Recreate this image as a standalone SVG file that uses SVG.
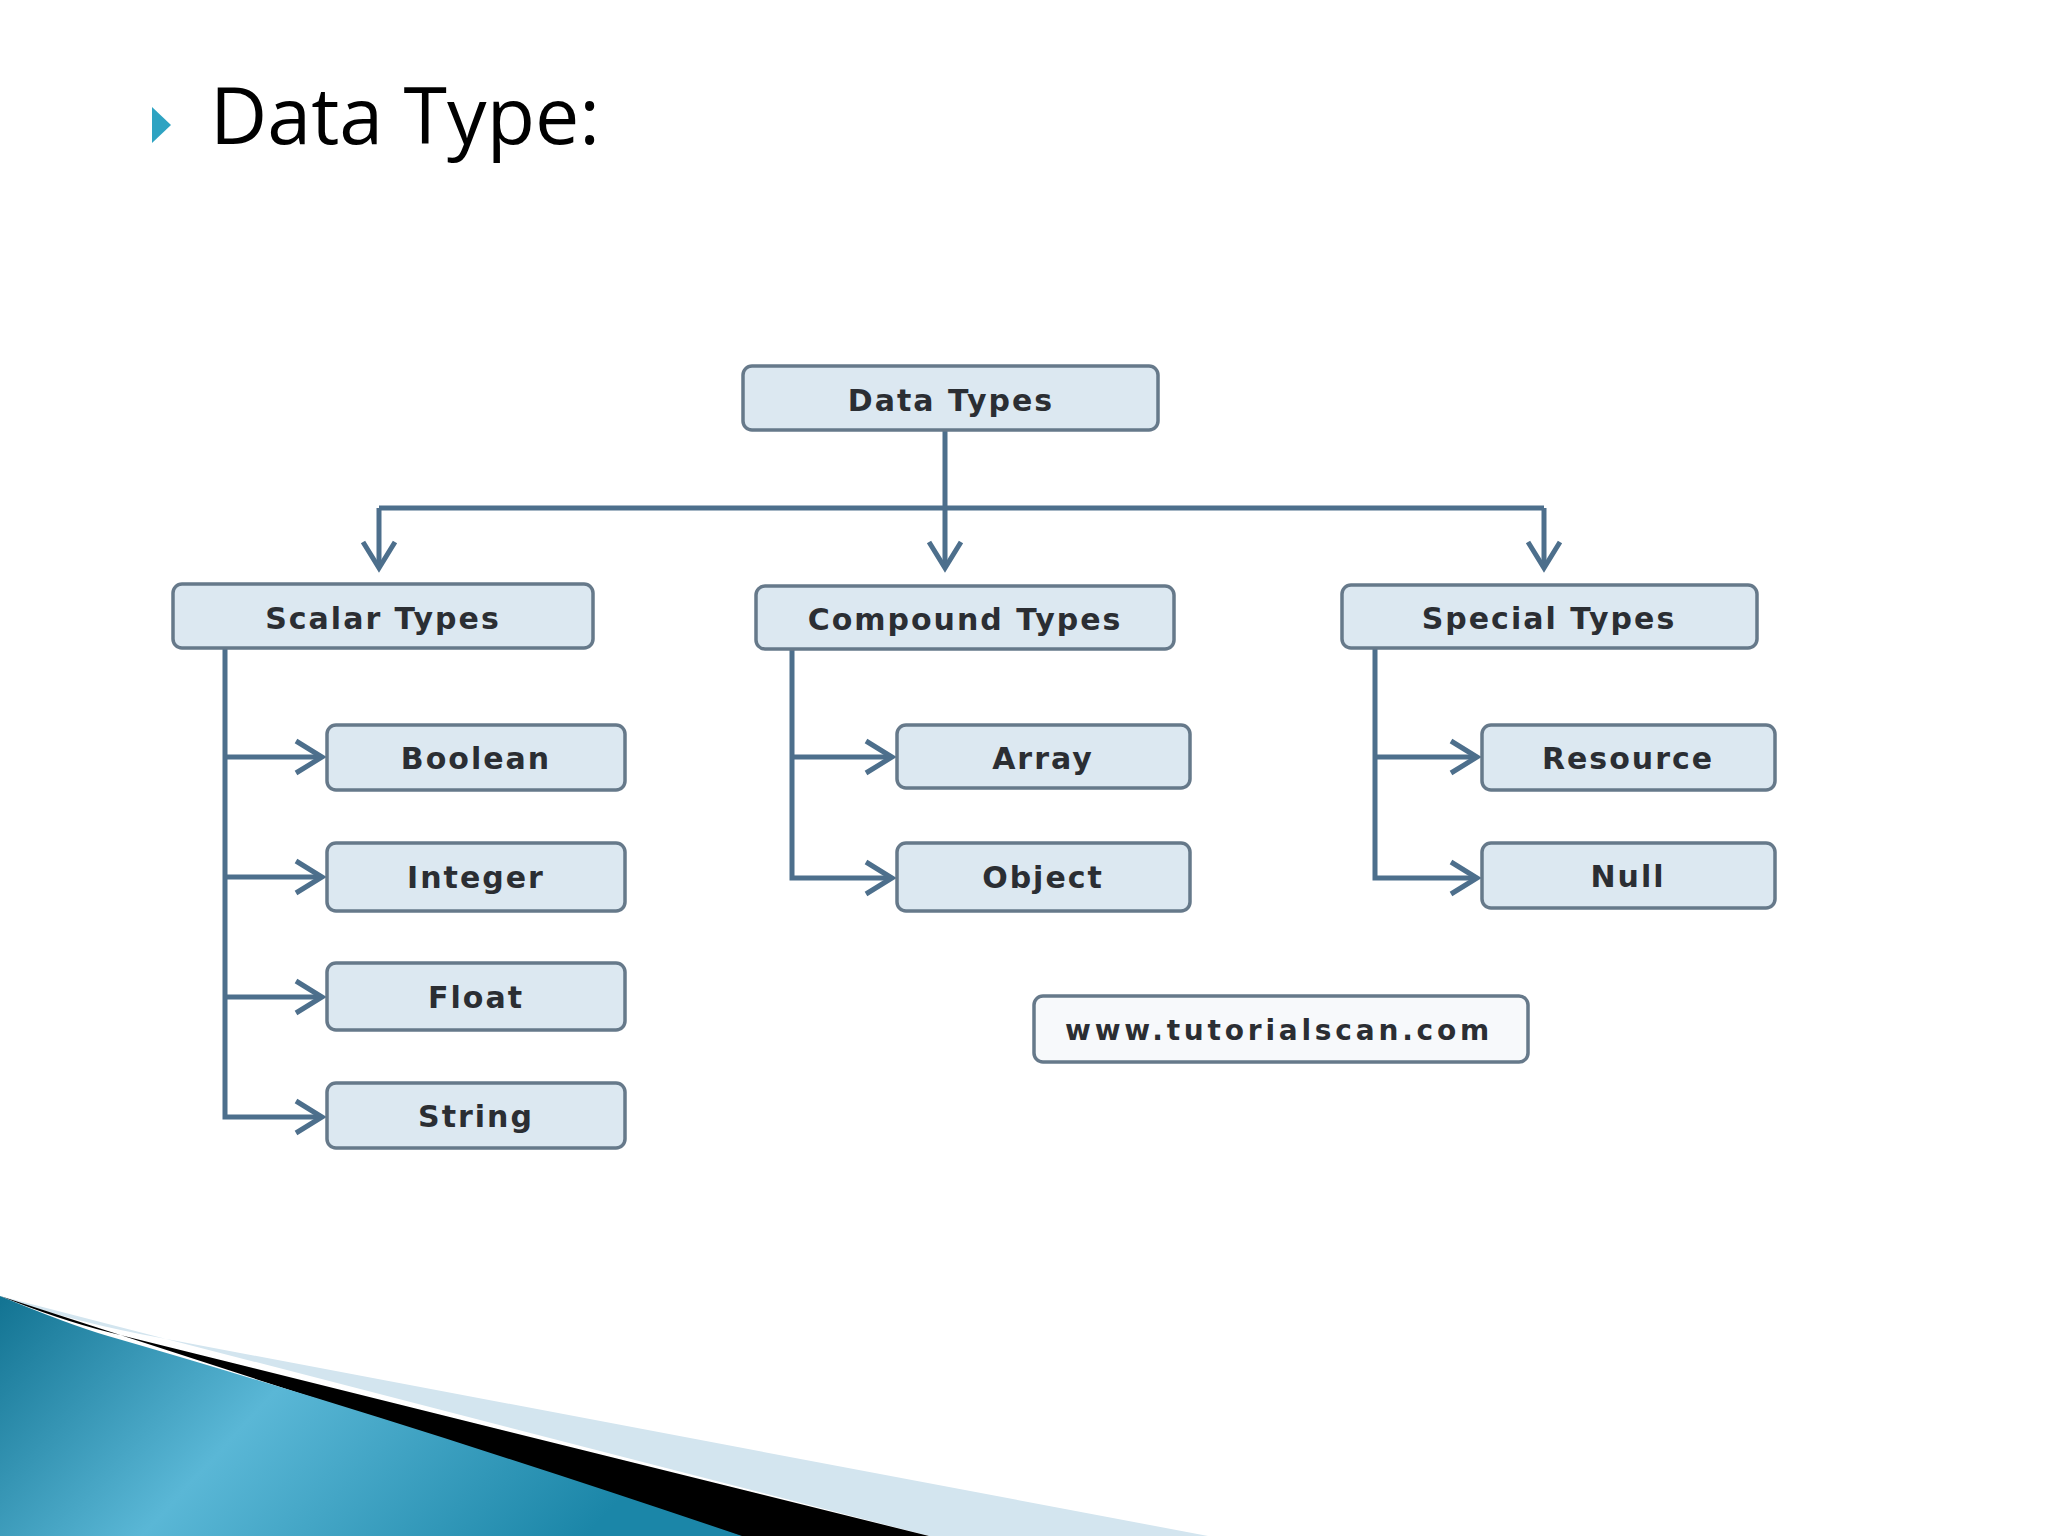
<svg xmlns="http://www.w3.org/2000/svg" width="2048" height="1536" viewBox="0 0 2048 1536">
<defs>
<style>
.box{fill:#dce8f1;stroke:#66798a;stroke-width:3.5}
.lbl{font-family:"DejaVu Sans",Verdana,sans-serif;font-weight:bold;font-size:30px;letter-spacing:2px;fill:#2b2e33;text-anchor:middle;dominant-baseline:central}
.con{fill:none;stroke:#4d6f8c;stroke-width:5}
</style>
<marker id="ah" markerUnits="userSpaceOnUse" markerWidth="40" markerHeight="40" viewBox="-30 -20 34 40" refX="0" refY="0" orient="auto">
<path d="M-26,-16 L0,0 L-26,16" fill="none" stroke="#4d6f8c" stroke-width="5" stroke-linejoin="miter"/>
</marker>
<linearGradient id="blue" x1="0" y1="0" x2="1" y2="0.3">
<stop offset="0" stop-color="#127392"/>
<stop offset="0.45" stop-color="#5ab7d6"/>
<stop offset="1" stop-color="#1b86a8"/>
</linearGradient>
</defs>
<rect width="2048" height="1536" fill="#ffffff"/>
<g id="title">
<polygon points="152,107 171,125 152,143" fill="#2ea3c2"/>
<text x="210" y="144" font-family="'Open Sans','DejaVu Sans',sans-serif" font-size="78" textLength="390" lengthAdjust="spacingAndGlyphs" fill="#000">Data Type:</text>
</g>
<g id="connectors">
<path class="con" d="M945,430 V568" marker-end="url(#ah)"/>
<path class="con" d="M379,508 H1544"/>
<path class="con" d="M379,508 V568" marker-end="url(#ah)"/>
<path class="con" d="M1544,508 V568" marker-end="url(#ah)"/>
<path class="con" d="M225,648 V1117 H322" marker-end="url(#ah)"/>
<path class="con" d="M225,757 H322" marker-end="url(#ah)"/>
<path class="con" d="M225,877 H322" marker-end="url(#ah)"/>
<path class="con" d="M225,997 H322" marker-end="url(#ah)"/>
<path class="con" d="M792,649 V878 H892" marker-end="url(#ah)"/>
<path class="con" d="M792,757 H892" marker-end="url(#ah)"/>
<path class="con" d="M1375,648 V878 H1477" marker-end="url(#ah)"/>
<path class="con" d="M1375,757 H1477" marker-end="url(#ah)"/>
</g>
<g id="n-datatypes"><rect class="box" x="743" y="366" width="415" height="64" rx="9"/><text class="lbl" x="951" y="400">Data Types</text></g>
<g id="n-scalar"><rect class="box" x="173" y="584" width="420" height="64" rx="9"/><text class="lbl" x="383" y="618">Scalar Types</text></g>
<g id="n-compound"><rect class="box" x="756" y="586" width="418" height="63" rx="9"/><text class="lbl" x="965" y="619">Compound Types</text></g>
<g id="n-special"><rect class="box" x="1342" y="585" width="415" height="63" rx="9"/><text class="lbl" x="1549" y="618">Special Types</text></g>
<g id="n-boolean"><rect class="box" x="327" y="725" width="298" height="65" rx="9"/><text class="lbl" x="476" y="758">Boolean</text></g>
<g id="n-integer"><rect class="box" x="327" y="843" width="298" height="68" rx="9"/><text class="lbl" x="476" y="877">Integer</text></g>
<g id="n-float"><rect class="box" x="327" y="963" width="298" height="67" rx="9"/><text class="lbl" x="476" y="997">Float</text></g>
<g id="n-string"><rect class="box" x="327" y="1083" width="298" height="65" rx="9"/><text class="lbl" x="476" y="1116">String</text></g>
<g id="n-array"><rect class="box" x="897" y="725" width="293" height="63" rx="9"/><text class="lbl" x="1043" y="758">Array</text></g>
<g id="n-object"><rect class="box" x="897" y="843" width="293" height="68" rx="9"/><text class="lbl" x="1043" y="877">Object</text></g>
<g id="n-resource"><rect class="box" x="1482" y="725" width="293" height="65" rx="9"/><text class="lbl" x="1628" y="758">Resource</text></g>
<g id="n-null"><rect class="box" x="1482" y="843" width="293" height="65" rx="9"/><text class="lbl" x="1628" y="876">Null</text></g>
<g id="n-url"><rect x="1034" y="996" width="494" height="66" rx="9" fill="#f7f9fb" stroke="#66798a" stroke-width="3.5"/><text class="lbl" x="1279" y="1030" style="font-size:28px;letter-spacing:3.8px">www.tutorialscan.com</text></g>
<g id="swoosh">
<path d="M0,1296 Q60,1318 140,1334 L1208,1536 L929,1536 Z" fill="#d3e5ef"/>
<path d="M0,1296 Q60,1320 108,1332 L929,1536 L740,1536 Z" fill="#000"/>
<path d="M0,1296 Q70,1325 108,1336 Q400,1420 742,1536 L0,1536 Z" fill="url(#blue)"/>
</g>
</svg>
